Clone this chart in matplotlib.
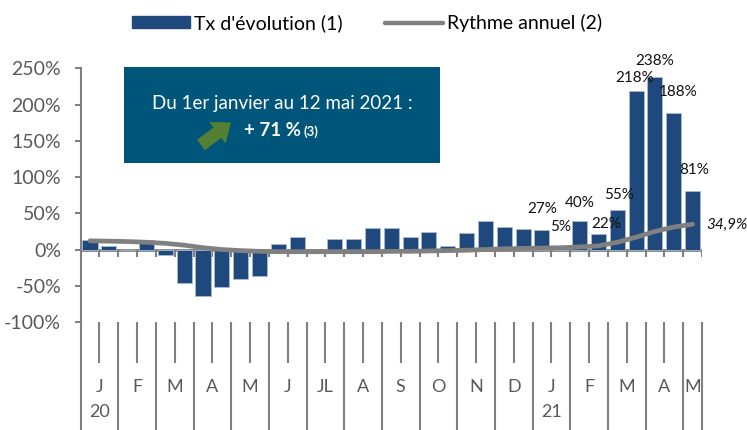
import matplotlib
matplotlib.use("Agg")
import matplotlib.pyplot as plt
from matplotlib.patches import Rectangle, FancyArrow, Patch
from matplotlib.lines import Line2D

plt.rcParams['font.family'] = ['Lato', 'DejaVu Sans']

# data: two bars per month, Jan 2020 -> first half of May 2021
tx_evolution = [13, 5, 0, 13, -7, -46, -64, -52, -40, -36, 8, 17, 0, 14, 14, 29, 30,
                17, 24, 5, 23, 39, 31, 28, 27, 5, 40, 22, 55, 218, 238, 188, 81]
rythme_annuel = [12, 11.5, 11, 10, 8.5, 6, 2.5, 0, -1.5, -2.5, -3, -3, -3, -3, -3, -3, -2.5,
                 -2.5, -2, -1.5, -1, 0, 1, 1.5, 2, 2.5, 3.5, 5, 10, 17, 25, 31, 34.9]
months = ['J', 'F', 'M', 'A', 'M', 'J', 'JL', 'A', 'S', 'O', 'N', 'D', 'J', 'F', 'M', 'A', 'M']
years = ['20', '21']
labelled = {24: '27%', 25: '5%', 26: '40%', 27: '22%', 28: '55%',
            29: '218%', 30: '238%', 31: '188%', 32: '81%'}
last_label = '34,9%'
yticks = [-100, -50, 0, 50, 100, 150, 200, 250]

# label offsets in pixels (dx, dy) - placed by hand like the original
label_offsets = {24: (0, 21), 25: (0, 19), 26: (0, 18), 27: (8, 10), 28: (2, 15),
                 29: (-1, 13), 30: (0, 16), 31: (4, 21), 32: (2, 21)}

navy = '#1f497d'
grey_line = '#808080'
txt_grey = '#595959'

fig = plt.figure(figsize=(7.47, 4.30), dpi=100)
ax = fig.add_axes([80.6 / 747, 108 / 430, (702 - 80.6) / 747, (322 - 68.3) / 430])

n = len(tx_evolution)
xs = [i + 0.5 for i in range(n)]
ax.bar(xs, tx_evolution, width=0.8, color=navy, edgecolor='#a9bcd6', linewidth=0.6, zorder=2)
ax.plot(xs, rythme_annuel, color=grey_line, lw=3.4, solid_capstyle='round', zorder=3)

ax.set_xlim(0, n)
ax.set_ylim(-100, 250)
ax.set_yticks(yticks)
ax.set_yticklabels([f'{v}%' for v in yticks])
ax.tick_params(axis='y', length=4, width=1.5, color=grey_line, labelcolor=txt_grey,
               labelsize=14, pad=10)
ax.set_xticks([])
for s in ['top', 'right', 'bottom']:
    ax.spines[s].set_visible(False)
ax.spines['left'].set_color(grey_line)
ax.spines['left'].set_linewidth(1.5)

# zero line with small ticks at each slot boundary
ax.axhline(0, color=grey_line, lw=2, zorder=1)
ax.vlines(range(n + 1), -10, 0, color=grey_line, lw=1.5, zorder=1)

# data labels
for i, txt in labelled.items():
    dx, dy = label_offsets[i]
    ax.annotate(txt, (xs[i], tx_evolution[i]), xytext=(dx, dy), textcoords='offset pixels',
                ha='center', va='center', fontsize=11, color='#111111')
ax.annotate(last_label, (xs[-1], rythme_annuel[-1]), xytext=(14, -1), textcoords='offset pixels',
            ha='left', va='center', fontsize=11, style='italic', color='#111111')

# category band below the plot
trans = ax.get_xaxis_transform()
month_edges = list(range(0, n, 2)) + [n]
ax.vlines(range(n + 1), -0.16, 0, transform=trans, color=grey_line, lw=1.5, clip_on=False)
ax.vlines(month_edges, -0.45, -0.16, transform=trans, color=grey_line, lw=1.5, clip_on=False)
for m, name in enumerate(months):
    left = month_edges[m]
    right = month_edges[m + 1]
    ax.text((left + right) / 2, -0.255, name, transform=trans, ha='center', va='center',
            fontsize=13, color=txt_grey)
ax.text(1, -0.355, years[0], transform=trans, ha='center', va='center', fontsize=13, color=txt_grey)
ax.text(25, -0.355, years[1], transform=trans, ha='center', va='center', fontsize=13, color=txt_grey)

# legend
handles = [Patch(facecolor=navy, edgecolor=navy),
           Line2D([], [], color=grey_line, lw=3.2, solid_capstyle='round')]
fig.legend(handles, ["Tx d'évolution (1)", 'Rythme annuel (2)'], loc='center',
           bbox_to_anchor=(367 / 747, 1 - 23 / 430), ncol=2, frameon=False, fontsize=14,
           handlelength=3.0, handleheight=0.55, handletextpad=0.2, columnspacing=2.2)

# text box
inch = fig.dpi_scale_trans
fig.patches.append(Rectangle((1.24, (430 - 163) / 100), 3.16, 0.96, transform=inch,
                             facecolor='#00567a', edgecolor='none', zorder=5))
fig.text(2.82, (430 - 104) / 100, 'Du 1er janvier au 12 mai 2021 :', transform=inch,
         ha='center', va='center', color='white', fontsize=13.5, zorder=6)
fig.text(2.44, (430 - 131) / 100, '+ 71 %', transform=inch, ha='left', va='center',
         color='white', fontsize=13.5, fontweight='bold', zorder=6)
fig.text(3.03, (430 - 132) / 100, '(3)', transform=inch, ha='left', va='center',
         color='white', fontsize=9.5, fontweight='bold', zorder=6)
fig.patches.append(FancyArrow(2.01, (430 - 145) / 100, 0.30, 0.225, width=0.13,
                              head_width=0.27, head_length=0.17, length_includes_head=True,
                              transform=inch, facecolor='#557f32', edgecolor='none', zorder=6))

fig.savefig('out.png', dpi=100)
